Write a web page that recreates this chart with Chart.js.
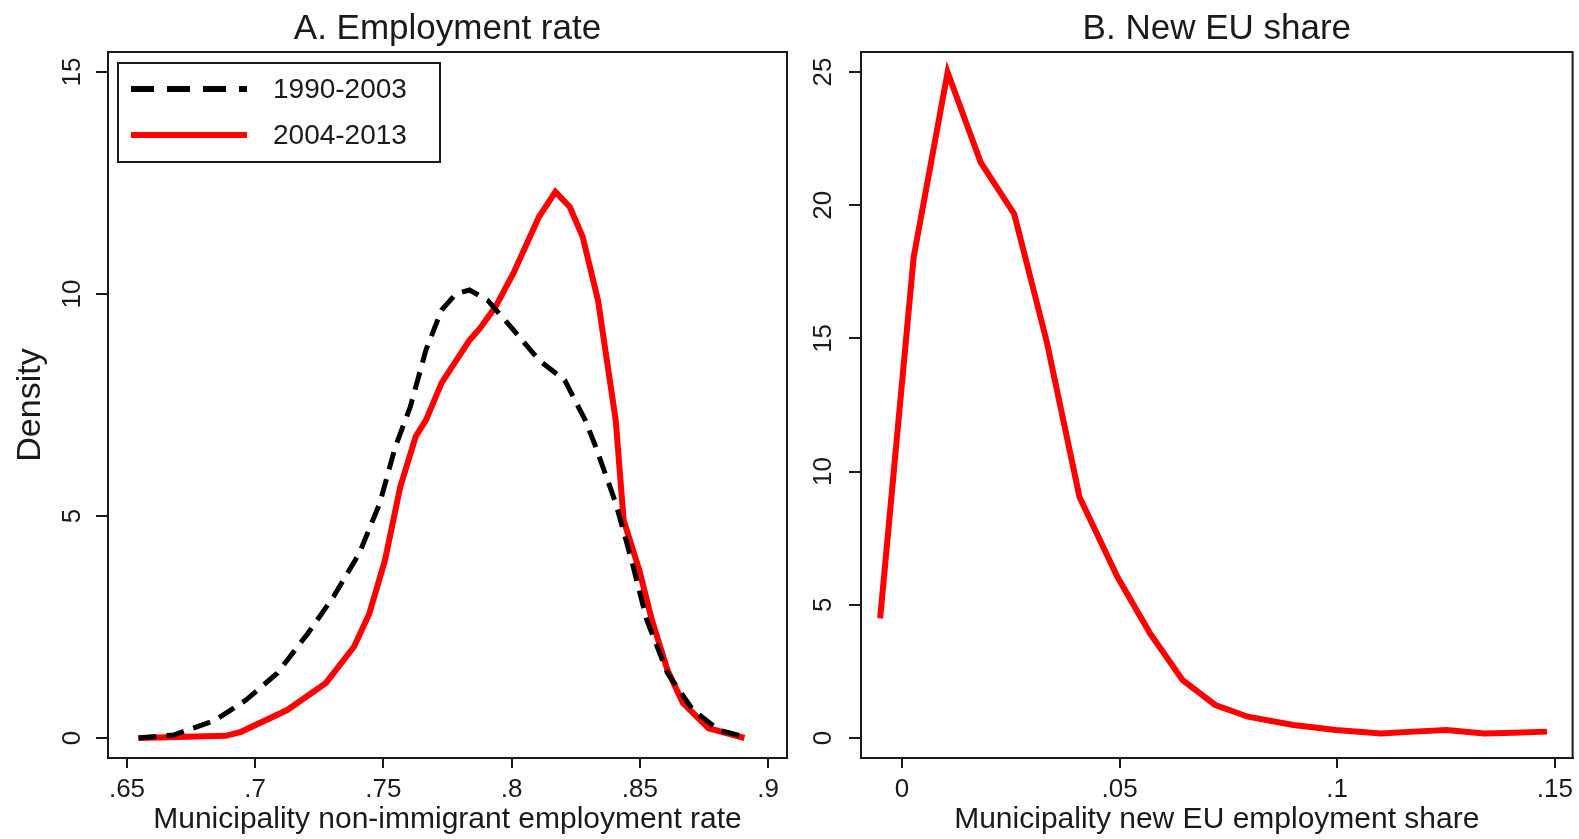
<!DOCTYPE html>
<html>
<head>
<meta charset="utf-8">
<script src="https://cdn.jsdelivr.net/npm/chart.js@4.4.1/dist/chart.umd.min.js"></script>
<style>
  html, body { margin: 0; padding: 0; background: #fff; }
  #wrap { position: relative; width: 1579px; height: 839px; }
  .panel { position: absolute; top: 0; height: 839px; }
  #p1 { left: 0; width: 800px; }
  #p2 { left: 790px; width: 789px; }
</style>
</head>
<body>
<div id="wrap">
  <div class="panel" id="p1"><canvas id="chartA"></canvas></div>
  <div class="panel" id="p2"><canvas id="chartB"></canvas></div>
</div>
<script>
// A. density of non-immigrant employment rate, two periods
const empX_9003 = [0.6545, 0.6684, 0.6844, 0.6965, 0.7086, 0.7206, 0.7305, 0.7406, 0.7486, 0.7546, 0.7605, 0.7666, 0.7727, 0.7782, 0.7836, 0.7906, 0.8007, 0.8107, 0.8207, 0.8287, 0.8328, 0.8406, 0.8468, 0.8527, 0.8608, 0.8707, 0.8808, 0.8908];
const empY_9003 = [0, 0.07, 0.4, 0.86, 1.46, 2.36, 3.18, 4.16, 5.29, 6.55, 7.46, 8.74, 9.64, 10.0, 10.09, 9.86, 9.19, 8.51, 8.06, 7.16, 6.56, 5.29, 4.0, 2.66, 1.46, 0.63, 0.18, 0.03];
const empX_0413 = [0.6545, 0.6885, 0.6945, 0.7125, 0.7276, 0.7386, 0.7445, 0.7506, 0.7566, 0.7626, 0.7666, 0.7727, 0.7836, 0.7877, 0.7937, 0.8007, 0.8107, 0.8171, 0.8227, 0.8277, 0.8337, 0.8406, 0.8437, 0.8498, 0.8547, 0.8608, 0.8668, 0.8768, 0.8908];
const empY_0413 = [0, 0.05, 0.14, 0.63, 1.24, 2.06, 2.8, 4.0, 5.66, 6.79, 7.16, 8.0, 8.96, 9.23, 9.71, 10.47, 11.74, 12.3, 11.96, 11.29, 9.86, 7.16, 4.9, 3.78, 2.66, 1.53, 0.79, 0.22, 0.0];

// B. density of new EU employment share
const euX = [-0.005, 0.0027, 0.0105, 0.0181, 0.0258, 0.0333, 0.0408, 0.0495, 0.057, 0.0645, 0.072, 0.0795, 0.0899, 0.0997, 0.1101, 0.1176, 0.1251, 0.1338, 0.1406, 0.1482];
const euY = [4.49, 18.05, 24.99, 21.61, 19.67, 14.86, 9.05, 6.05, 3.93, 2.17, 1.24, 0.8, 0.49, 0.3, 0.17, 0.24, 0.3, 0.17, 0.2, 0.24];

const ticksA_x = [0.65, 0.7, 0.75, 0.8, 0.85, 0.9];
const labelsA_x = ['.65', '.7', '.75', '.8', '.85', '.9'];
const ticksA_y = [0, 5, 10, 15];
const ticksB_x = [0, 0.05, 0.1, 0.15];
const labelsB_x = ['0', '.05', '.1', '.15'];
const ticksB_y = [0, 5, 10, 15, 20, 25];

const INK = '#1a1a1a';
const FONT = "'Liberation Sans', Arial, sans-serif";
Chart.defaults.font.family = FONT;
Chart.defaults.color = INK;

const toPts = (xs, ys) => xs.map((x, i) => ({ x: x, y: ys[i] }));

// box around the plot region, rotated y tick labels and the legend (Stata look)
const stataFrame = {
  id: 'stataFrame',
  afterDraw(chart, args, opts) {
    const { ctx, chartArea: a } = chart;
    ctx.save();
    ctx.strokeStyle = INK;
    ctx.lineWidth = 2;
    ctx.strokeRect(a.left, a.top, a.right - a.left, a.bottom - a.top);

    const ys = chart.scales.y;
    ctx.fillStyle = INK;
    ctx.font = '26px ' + FONT;
    ctx.textAlign = 'center';
    ctx.textBaseline = 'middle';
    ys.ticks.forEach(t => {
      ctx.save();
      ctx.translate(opts.labelX, ys.getPixelForValue(t.value));
      ctx.rotate(-Math.PI / 2);
      ctx.fillText(String(t.value), 0, 0);
      ctx.restore();
    });

    if (opts.legend) {
      const bx = a.left + 10, by = a.top + 11;
      ctx.lineWidth = 2;
      ctx.strokeStyle = INK;
      ctx.strokeRect(bx, by, 322, 99);
      ctx.font = '28px ' + FONT;
      ctx.textAlign = 'left';
      chart.data.datasets.forEach((ds, i) => {
        const ly = by + 26 + i * 46;
        ctx.save();
        ctx.strokeStyle = ds.borderColor;
        ctx.lineWidth = 6;
        ctx.setLineDash(ds.borderDash ? [23, 13] : []);
        ctx.beginPath();
        ctx.moveTo(bx + 13, ly);
        ctx.lineTo(bx + 129, ly);
        ctx.stroke();
        ctx.restore();
        ctx.fillStyle = INK;
        ctx.fillText(ds.label, bx + 155, ly + 1);
      });
    }
    ctx.restore();
  }
};

function axes(xr, yr, xt, xl, yt, yw, xTitle, yTitle) {
  return {
    x: {
      type: 'linear', min: xr[0], max: xr[1],
      afterBuildTicks: s => { s.ticks = xt.map(v => ({ value: v })); },
      afterFit: s => { s.height = 81; },
      grid: { drawOnChartArea: false, tickLength: 10, color: INK, lineWidth: 2 },
      border: { color: INK, width: 2 },
      ticks: { autoSkip: false, maxRotation: 0, font: { size: 26 }, padding: 6,
               callback: (v, i) => xl[i] },
      title: { display: true, text: xTitle, font: { size: 30 }, padding: { top: 0, bottom: 1 } }
    },
    y: {
      type: 'linear', min: yr[0], max: yr[1],
      afterBuildTicks: s => { s.ticks = yt.map(v => ({ value: v })); },
      afterFit: s => { s.width = yw; },
      grid: { drawOnChartArea: false, tickLength: 12, color: INK, lineWidth: 2 },
      border: { color: INK, width: 2 },
      ticks: { display: false },
      title: { display: !!yTitle, text: yTitle || '', font: { size: 34 }, padding: { top: 10, bottom: 0 } }
    }
  };
}

new Chart(document.getElementById('chartA'), {
  type: 'line',
  data: {
    datasets: [
      { label: '1990-2003', data: toPts(empX_9003, empY_9003), borderColor: '#000000',
        borderWidth: 5, borderDash: [18, 10], pointRadius: 0, tension: 0, fill: false },
      { label: '2004-2013', data: toPts(empX_0413, empY_0413), borderColor: '#ff0000',
        borderWidth: 6, pointRadius: 0, tension: 0, fill: false }
    ]
  },
  options: {
    responsive: true, maintainAspectRatio: false, animation: false,
    layout: { padding: { left: 0, right: 13, top: 0, bottom: 0 } },
    scales: axes([0.6426, 0.9074], [-0.45, 15.45], ticksA_x, labelsA_x, ticksA_y, 108,
                 'Municipality non-immigrant employment rate', 'Density'),
    plugins: {
      legend: { display: false },
      tooltip: { enabled: false },
      title: { display: true, fullSize: false, text: 'A. Employment rate', color: INK,
               font: { size: 35, weight: 'normal' }, padding: { top: 8, bottom: 2 } },
      stataFrame: { labelX: 73, legend: true }
    }
  },
  plugins: [stataFrame]
});

new Chart(document.getElementById('chartB'), {
  type: 'line',
  data: {
    datasets: [
      { label: 'New EU share', data: toPts(euX, euY), borderColor: '#ff0000',
        borderWidth: 6, pointRadius: 0, tension: 0, fill: false }
    ]
  },
  options: {
    responsive: true, maintainAspectRatio: false, animation: false,
    layout: { padding: { left: 0, right: 3, top: 0, bottom: 0 } },
    scales: axes([-0.0094, 0.1541], [-0.75, 25.75], ticksB_x, labelsB_x, ticksB_y, 71,
                 'Municipality new EU employment share', null),
    plugins: {
      legend: { display: false },
      tooltip: { enabled: false },
      title: { display: true, fullSize: false, text: 'B. New EU share', color: INK,
               font: { size: 35, weight: 'normal' }, padding: { top: 8, bottom: 2 } },
      stataFrame: { labelX: 34, legend: false }
    }
  },
  plugins: [stataFrame]
});
</script>
</body>
</html>
